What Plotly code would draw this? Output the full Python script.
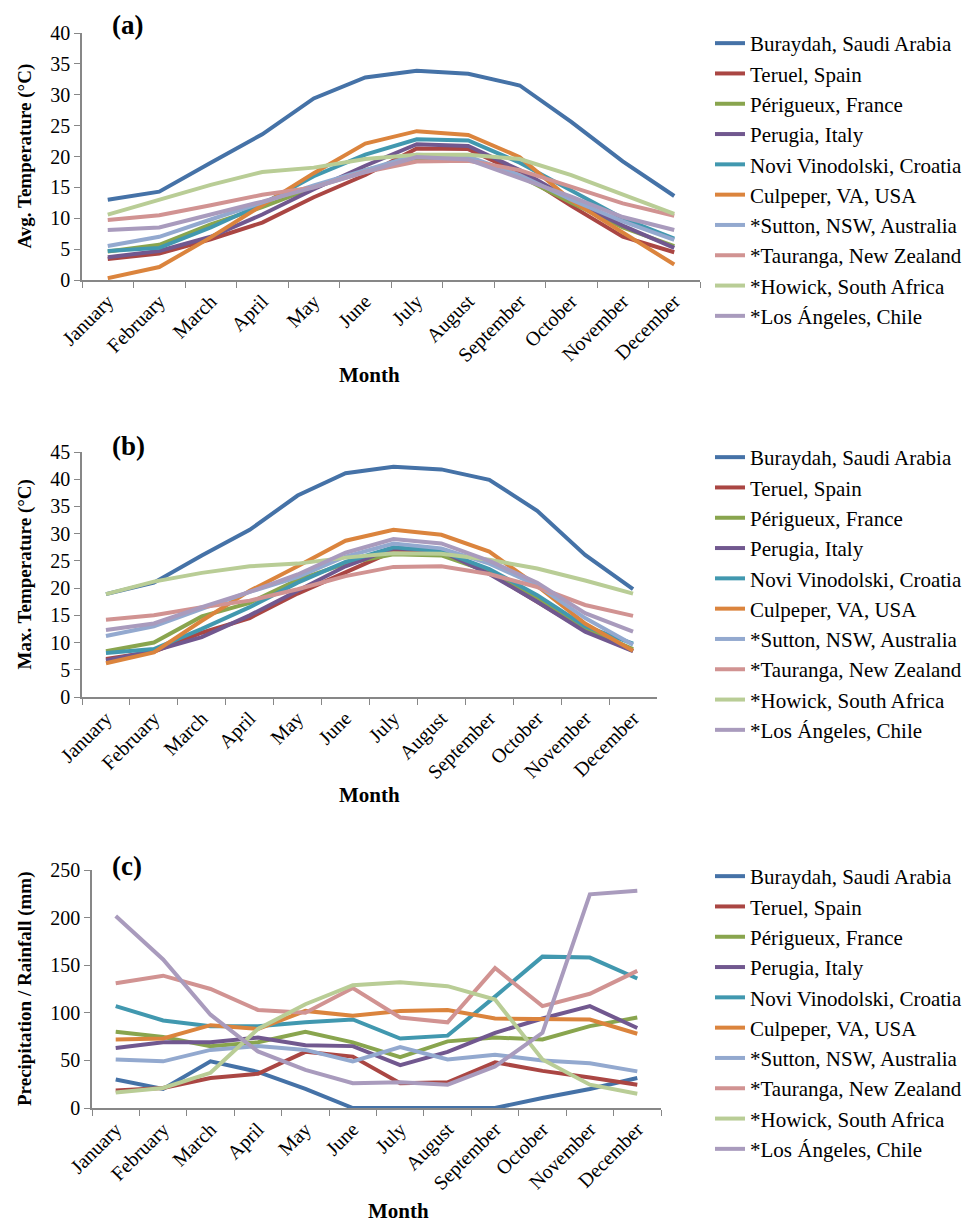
import plotly.graph_objects as go

months = ["January", "February", "March", "April", "May", "June", "July",
          "August", "September", "October", "November", "December"]

cities = ["Buraydah, Saudi Arabia", "Teruel, Spain", "Périgueux, France",
          "Perugia, Italy", "Novi Vinodolski, Croatia", "Culpeper, VA, USA",
          "*Sutton, NSW, Australia", "*Tauranga, New Zealand",
          "*Howick, South Africa", "*Los Ángeles, Chile"]

colors = ["#4572A7", "#AA4643", "#89A54E", "#71588F", "#4198AF",
          "#DB843D", "#93A9CF", "#D19392", "#B9CD96", "#A99BBD"]

# (a) Average temperature (°C)
avg_buraydah = [13.0, 14.3, 19.0, 23.6, 29.4, 32.8, 33.9, 33.4, 31.5, 25.6, 19.2, 13.6]
avg_teruel = [3.4, 4.3, 6.6, 9.3, 13.4, 17.0, 21.3, 21.2, 17.3, 12.0, 7.0, 4.5]
avg_perigueux = [4.6, 5.7, 9.0, 11.8, 15.0, 17.8, 19.8, 19.7, 16.8, 12.5, 8.5, 5.5]
avg_perugia = [3.7, 4.7, 7.0, 10.6, 14.7, 18.5, 22.0, 21.7, 17.8, 13.0, 8.8, 5.2]
avg_novi = [4.7, 5.2, 8.5, 12.3, 16.8, 20.3, 22.8, 22.6, 19.0, 14.5, 10.0, 6.7]
avg_culpeper = [0.3, 2.1, 6.9, 12.1, 17.3, 22.1, 24.1, 23.5, 19.9, 12.9, 7.7, 2.5]
avg_sutton = [5.5, 7.0, 9.8, 12.5, 15.3, 17.8, 20.3, 20.0, 17.0, 13.0, 9.5, 6.5]
avg_tauranga = [9.7, 10.5, 12.1, 13.8, 15.0, 17.5, 19.2, 19.3, 17.8, 15.1, 12.4, 10.4]
avg_howick = [10.6, 13.0, 15.4, 17.5, 18.2, 19.6, 20.3, 20.3, 19.6, 17.0, 13.8, 10.7]
avg_losangeles = [8.1, 8.5, 10.6, 12.7, 15.0, 17.5, 19.9, 19.5, 16.5, 13.5, 10.2, 8.1]

# (b) Maximum temperature (°C)
max_buraydah = [18.9, 21.0, 26.0, 30.7, 37.0, 41.1, 42.3, 41.8, 39.9, 34.2, 26.1, 19.8]
max_teruel = [7.0, 8.3, 11.8, 14.5, 19.0, 23.0, 26.8, 26.5, 22.8, 17.5, 12.2, 8.5]
max_perigueux = [8.4, 10.0, 14.8, 17.3, 21.5, 24.5, 26.2, 26.0, 23.0, 18.3, 12.6, 8.8]
max_perugia = [6.7, 8.5, 11.0, 15.0, 19.5, 24.0, 27.3, 26.8, 22.6, 17.5, 12.0, 8.4]
max_novi = [8.1, 8.8, 12.5, 16.5, 21.0, 24.8, 27.5, 26.8, 23.5, 18.7, 13.0, 9.8]
max_culpeper = [6.2, 8.2, 14.0, 19.5, 24.0, 28.7, 30.7, 29.8, 26.7, 20.4, 13.5, 8.5]
max_sutton = [11.2, 13.0, 16.2, 19.3, 22.0, 25.8, 28.2, 27.3, 24.5, 20.5, 14.5, 9.6]
max_tauranga = [14.2, 15.0, 16.5, 17.7, 19.8, 22.2, 23.9, 24.0, 22.6, 20.2, 16.9, 14.9]
max_howick = [18.9, 21.2, 22.8, 24.0, 24.5, 25.6, 26.4, 26.3, 25.2, 23.6, 21.4, 19.0]
max_losangeles = [12.3, 13.5, 16.5, 19.3, 22.5, 26.5, 29.0, 28.2, 25.0, 21.0, 15.4, 12.0]

# (c) Precipitation / Rainfall (mm)
rain_buraydah = [30, 20, 49, 38, 20, 0, 0, 0, 0, 10.5, 20, 31.5]
rain_teruel = [18.5, 21, 31.5, 36, 59, 54, 26, 27, 48, 39, 32, 24.5]
rain_perigueux = [80, 74.5, 65, 69, 80, 69, 53.5, 70, 74, 72, 86, 95]
rain_perugia = [63, 69, 69, 74, 66, 65, 45, 59, 79, 94, 107, 84]
rain_novi = [107, 92, 86, 86, 90, 93, 73, 76, 117, 159, 158, 136]
rain_culpeper = [72, 73, 87, 83, 102, 97, 102, 103, 94, 93, 93, 78]
rain_sutton = [51, 49, 61, 65, 61, 49, 64, 51, 56, 50, 47, 38.5]
rain_tauranga = [131, 139, 125, 103, 100, 126, 95, 90, 147, 107, 120, 144]
rain_howick = [16.4, 21, 37, 83, 109, 129, 132, 128, 114, 51, 24.5, 15]
rain_losangeles = [201.7, 156, 98, 59.4, 40, 26, 27, 24.5, 43.7, 79, 224.5, 228.3]

panel_avg = [avg_buraydah, avg_teruel, avg_perigueux, avg_perugia, avg_novi,
             avg_culpeper, avg_sutton, avg_tauranga, avg_howick, avg_losangeles]
panel_max = [max_buraydah, max_teruel, max_perigueux, max_perugia, max_novi,
             max_culpeper, max_sutton, max_tauranga, max_howick, max_losangeles]
panel_rain = [rain_buraydah, rain_teruel, rain_perigueux, rain_perugia, rain_novi,
              rain_culpeper, rain_sutton, rain_tauranga, rain_howick, rain_losangeles]

W, H = 980, 1221
OFF = 8  # default page body margin
FONT = "'Liberation Serif', 'Times New Roman', serif"


def px_x(p):
    return (p - OFF) / W


def px_y(p):
    return 1 - (p - OFF) / H


panels = [
    (panel_avg, "", (82, 700), (33, 280), [0, 40], 5, "Avg. Temperature (°C)", "(a)", 25, (369, 375), "legend", 23),
    (panel_max, "2", (82, 657), (452, 697), [0, 45], 5, "Max. Temperature (°C)", "(b)", 446, (369, 795), "legend2", 437),
    (panel_rain, "3", (92, 661), (870, 1108), [0, 250], 50, "Precipitation / Rainfall (mm)", "(c)", 866, (398, 1211), "legend3", 856),
]

fig = go.Figure()
annotations = []
layout_upd = {}

for data, sfx, xd, yd, yr, dt, ytitle, lab, laby, monthxy, legname, legtop in panels:
    for name, vals, col in zip(cities, data, colors):
        fig.add_trace(go.Scatter(
            x=months, y=vals, name=name, mode="lines",
            line=dict(color=col, width=4),
            xaxis="x" + sfx, yaxis="y" + sfx, legend=legname,
        ))
    layout_upd["xaxis" + sfx] = dict(
        domain=[px_x(xd[0]), px_x(xd[1])], anchor="y" + sfx,
        type="category", range=[-0.5, 11.5], tickson="boundaries",
        showline=True, linecolor="#878787", linewidth=1.5,
        ticks="outside", ticklen=6, tickcolor="#878787",
        tickangle=-45, tickfont=dict(family=FONT, size=20, color="black"),
        showgrid=False, zeroline=False, fixedrange=True, automargin=False,
    )
    layout_upd["yaxis" + sfx] = dict(
        domain=[px_y(yd[1]), px_y(yd[0])], anchor="x" + sfx,
        range=yr, dtick=dt, tick0=0,
        showline=True, linecolor="#878787", linewidth=1.5,
        ticks="outside", ticklen=6, tickcolor="#878787",
        tickfont=dict(family=FONT, size=20, color="black"),
        showgrid=False, zeroline=False, fixedrange=True, automargin=False,
    )
    layout_upd[legname] = dict(
        x=px_x(710), xanchor="left", y=px_y(legtop), yanchor="top",
        font=dict(family=FONT, size=21, color="black"),
        bgcolor="rgba(0,0,0,0)", borderwidth=0,
    )
    annotations.append(dict(
        text="<b>" + ytitle + "</b>", textangle=-90,
        xref="paper", yref="paper", x=px_x(25), y=px_y((yd[0] + yd[1]) / 2),
        xanchor="center", yanchor="middle", showarrow=False,
        font=dict(family=FONT, size=19, color="black"),
    ))
    annotations.append(dict(
        text="<b>" + lab + "</b>", xref="paper", yref="paper",
        x=px_x(110), y=px_y(laby), xanchor="left", yanchor="middle", showarrow=False,
        font=dict(family=FONT, size=27, color="black"),
    ))
    annotations.append(dict(
        text="<b>Month</b>", xref="paper", yref="paper",
        x=px_x(monthxy[0]), y=px_y(monthxy[1]), xanchor="center", yanchor="middle",
        showarrow=False, font=dict(family=FONT, size=21, color="black"),
    ))

fig.update_layout(
    width=W, height=H,
    margin=dict(l=0, r=0, t=0, b=0, autoexpand=False),
    paper_bgcolor="white", plot_bgcolor="white",
    showlegend=True,
    annotations=annotations,
    font=dict(family=FONT, color="black"),
    **layout_upd,
)

fig.write_html("out.html")
